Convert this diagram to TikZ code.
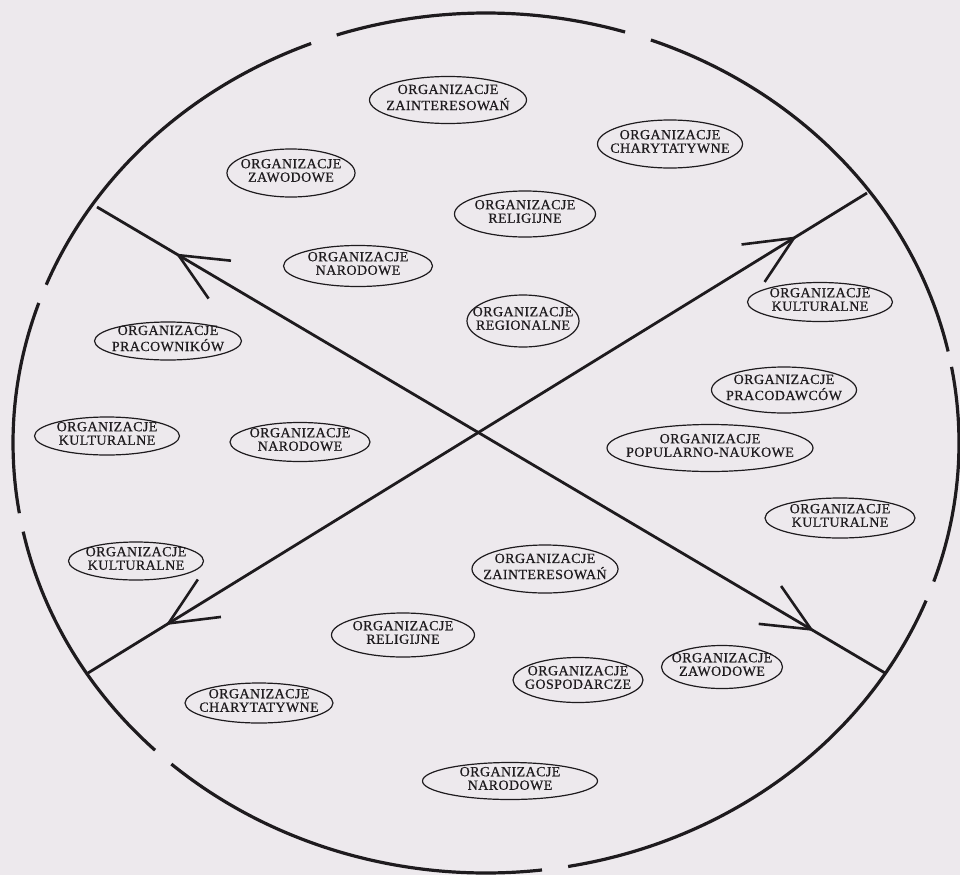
\documentclass[tikz,border=0pt]{standalone}
\usepackage{fontspec}
\setmainfont{Liberation Serif}
\usetikzlibrary{shapes.geometric,arrows.meta,decorations.markings}
\definecolor{bg}{RGB}{237,233,237}
\definecolor{ink}{RGB}{30,27,30}
\newcommand{\orgtxt}[1]{\smash{\makebox[0pt]{\raisebox{-0.45ex}{\begin{tabular}{@{}c@{}}ORGANIZACJE\\#1\end{tabular}}}}}
\tikzset{
  rim/.style={draw=ink, line width=3.2pt},
  bar/.style={draw=ink, line width=2.8pt},
  org/.style={ellipse, draw=ink, line width=1.2pt, inner sep=0pt, text=ink,
    font=\fontsize{14}{13.5}\selectfont\addfontfeature{LetterSpace=3,FakeBold=0.6}},
  twoway/.style={postaction={decorate}, decoration={markings,
    mark=at position 0.10 with {\arrowreversed{Straight Barb[length=48pt,width=44pt,line width=2.6pt]}},
    mark=at position 0.91 with {\arrow{Straight Barb[length=48pt,width=44pt,line width=2.6pt]}}}}
}
\begin{document}
\begin{tikzpicture}[x=1pt,y=-1pt]
\fill[bg] (0,0) rectangle (960,875);
\useasboundingbox (0,0) rectangle (960,875);
% outer broken ellipse
\foreach \a/\b in {12.3/69.6, 72.9/108.4, 111.7/158.4, 161/189.4, 191.9/225.6, 228.3/276.8, 280/338.5, 341.2/370.2}
  \draw[rim] plot[domain=\a:\b, samples=50, smooth] ({486+473*cos(\x)}, {443-430*sin(\x)});
% crossing lines
\coordinate (p1) at (97,207);
\coordinate (p2) at (885,673);
\coordinate (q1) at (88,673);
\coordinate (q2) at (867,193);
\draw[bar, twoway] (p1) -- (p2);
\draw[bar, twoway] (q1) -- (q2);
% organisations
\node[org, minimum width=157pt, minimum height=47pt] (n1) at (448,100) {\orgtxt{ZAINTERESOWAŃ}};
\node[org, minimum width=145pt, minimum height=48pt] (n2) at (670,144) {\orgtxt{CHARYTATYWNE}};
\node[org, minimum width=128pt, minimum height=48pt] (n3) at (291,173) {\orgtxt{ZAWODOWE}};
\node[org, minimum width=141pt, minimum height=46pt] (n4) at (525,214) {\orgtxt{RELIGIJNE}};
\node[org, minimum width=149pt, minimum height=41pt] (n5) at (358,266) {\orgtxt{NARODOWE}};
\node[org, minimum width=112pt, minimum height=52pt] (n6) at (523,321) {\orgtxt{REGIONALNE}};
\node[org, minimum width=145pt, minimum height=39pt] (n7) at (820,302) {\orgtxt{KULTURALNE}};
\node[org, minimum width=145pt, minimum height=46pt] (n8) at (784,390) {\orgtxt{PRACODAWCÓW}};
\node[org, minimum width=147pt, minimum height=38pt] (n9) at (168,341) {\orgtxt{PRACOWNIKÓW}};
\node[org, minimum width=145pt, minimum height=38pt] (n10) at (107,436) {\orgtxt{KULTURALNE}};
\node[org, minimum width=140pt, minimum height=39pt] (n11) at (300,442) {\orgtxt{NARODOWE}};
\node[org, minimum width=206pt, minimum height=47pt] (n12) at (710,448) {\orgtxt{POPULARNO-NAUKOWE}};
\node[org, minimum width=150pt, minimum height=40pt] (n13) at (840,518) {\orgtxt{KULTURALNE}};
\node[org, minimum width=135pt, minimum height=38pt] (n14) at (136,561) {\orgtxt{KULTURALNE}};
\node[org, minimum width=146pt, minimum height=48pt] (n15) at (545,569) {\orgtxt{ZAINTERESOWAŃ}};
\node[org, minimum width=143pt, minimum height=44pt] (n16) at (403,635) {\orgtxt{RELIGIJNE}};
\node[org, minimum width=130pt, minimum height=45pt] (n17) at (578,680) {\orgtxt{GOSPODARCZE}};
\node[org, minimum width=121pt, minimum height=43pt] (n18) at (722,667) {\orgtxt{ZAWODOWE}};
\node[org, minimum width=148pt, minimum height=40pt] (n19) at (259,703) {\orgtxt{CHARYTATYWNE}};
\node[org, minimum width=175pt, minimum height=37pt] (n20) at (510,781) {\orgtxt{NARODOWE}};
\end{tikzpicture}
\end{document}
